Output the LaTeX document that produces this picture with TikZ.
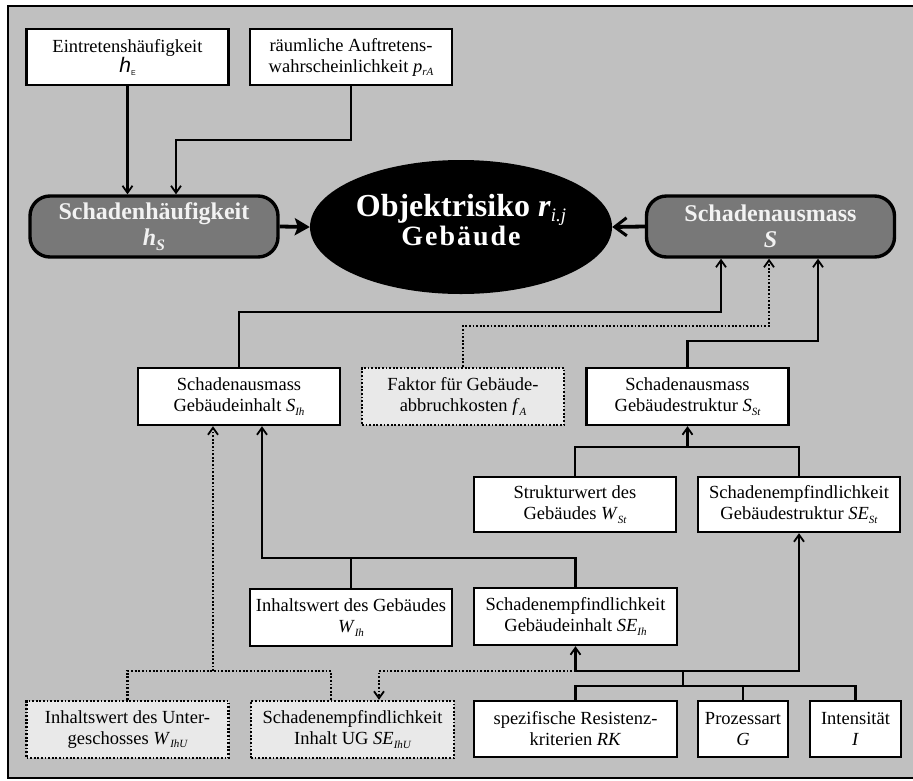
\documentclass[tikz,border=0pt]{standalone}
\usepackage{fontspec}
\setmainfont{Liberation Serif}
\newfontfamily\arialfont{Liberation Sans}
\usetikzlibrary{arrows.meta,shapes.geometric}

\definecolor{panelgrey}{HTML}{C0C0C0}
\definecolor{titlegrey}{HTML}{787878}
\definecolor{optfill}{HTML}{E9E9E9}
\definecolor{titletext}{HTML}{F2F2F2}

% small italic subscripts
\newcommand{\lowsub}[1]{\raisebox{-3.5pt}{\fontsize{11}{11}\selectfont\itshape #1}}
\newcommand{\bigsub}[1]{\raisebox{-4.5pt}{\fontsize{16}{16}\selectfont\itshape #1}}

\begin{document}
\begin{tikzpicture}[x=1pt,y=-1pt,
  box/.style={draw, line width=2.4pt, fill=white, minimum width=202pt, minimum height=56pt,
    align=center, inner sep=2pt, font=\fontsize{18.5}{21}\selectfont},
  optbox/.style={box, fill=optfill, dash pattern=on 1.8pt off 1.8pt},
  titlebox/.style={draw, line width=3.4pt, fill=titlegrey, rounded corners=20pt,
    minimum width=248pt, minimum height=61pt, text=titletext, align=center, inner sep=2pt,
    font=\fontsize{24}{26}\selectfont\bfseries},
  conn/.style={line width=2.2pt},
  dconn/.style={line width=2.2pt, dash pattern=on 1.8pt off 1.8pt},
  arr/.style={conn, -{Straight Barb[length=7pt,width=10pt,line width=1.8pt]}},
  darr/.style={dconn, -{Straight Barb[length=7pt,width=10pt,line width=1.8pt]}},
  fatarr/.style={line width=3.8pt, -{Stealth[length=15pt,width=17pt,inset=3pt]}},
  fatbarb/.style={line width=3.8pt, -{Straight Barb[length=12pt,width=18pt,line width=3pt]}}
]
\useasboundingbox (0,0) rectangle (913,780);
\clip (0,0) rectangle (913,780);

% panel
\fill[white] (0,0) rectangle (913,780);
\fill[panelgrey] (8,6) rectangle (930,778);
\draw[line width=2.8pt] (930,6) -- (8,6) -- (8,778) -- (930,778);

% upper row
\node[box] (hE) at (127.5,57) {Eintretenshäufigkeit\\[-1pt]{\arialfont\itshape\fontsize{21}{21}\selectfont h}\raisebox{-3pt}{\arialfont\fontsize{7}{7}\selectfont E}};
\node[box] (prA) at (351,57) {räumliche Auftretens-\\wahrscheinlichkeit \textit{p}\lowsub{rA}};

% central level
\node[titlebox] (hS) at (154,226.5) {Schadenhäufigkeit\\\textit{h}\bigsub{S}};
\node[ellipse, fill=black, minimum width=302pt, minimum height=134pt, inner sep=0pt] (obj) at (461,227) {};
\node[text=white, align=center, inner sep=0pt] (objtext) at (461,220)
  {\fontsize{32}{37}\selectfont\bfseries Objektrisiko \textit{r}\raisebox{-5pt}{\fontsize{19}{19}\selectfont\mdseries\itshape i.j}\\
   \fontsize{28}{37}\selectfont\bfseries\addfontfeature{LetterSpace=7}Gebäude};
\node[titlebox] (S) at (770.5,226.5) {Schadenausmass\\\textit{S}};

% damage extent components
\node[box, minimum height=57pt] (SIh) at (239,396.5) {Schadenausmass\\Gebäudeinhalt \textit{S}\lowsub{Ih}};
\node[optbox, minimum height=57pt] (fA) at (463,396.5) {Faktor für Gebäude-\\abbruchkosten \textit{f}\lowsub{A}};
\node[box, minimum height=57pt] (SSt) at (687.5,396.5) {Schadenausmass\\Gebäudestruktur \textit{S}\lowsub{St}};

\node[box, minimum height=55pt] (WSt) at (575,504.5) {Strukturwert des\\Gebäudes \textit{W}\lowsub{St}};
\node[box, minimum height=55pt] (SESt) at (799,504.5) {Schadenempfindlichkeit\\Gebäudestruktur \textit{SE}\lowsub{St}};

\node[box, minimum height=57pt] (WIh) at (351,617.5) {Inhaltswert des Gebäudes\\\textit{W}\lowsub{Ih}};
\node[box, minimum height=57pt, minimum width=203pt] (SEIh) at (575.5,616.5) {Schadenempfindlichkeit\\Gebäudeinhalt \textit{SE}\lowsub{Ih}};

% bottom row
\node[optbox, minimum height=57pt] (WIhU) at (127.5,729.5) {Inhaltswert des Unter-\\geschosses \textit{W}\lowsub{IhU}};
\node[optbox, minimum height=57pt, minimum width=203pt] (SEIhU) at (352.5,729.5) {Schadenempfindlichkeit\\Inhalt UG \textit{SE}\lowsub{IhU}};
\node[box, minimum width=203pt] (RK) at (575.5,729) {spezifische Resistenz-\\kriterien \textit{RK}};
\node[box, minimum width=90pt] (G) at (743,729) {Prozessart\\\textit{G}};
\node[box, minimum width=91pt] (I) at (855.5,729) {Intensität\\\textit{I}};

% routing points
\coordinate (k1) at (176,140);
\coordinate (s1) at (721,312);
\coordinate (s2) at (769,326);
\coordinate (s3) at (818,341);
\coordinate (j1) at (687.5,447);
\coordinate (j2) at (262,558);
\coordinate (j3) at (683,686);
\coordinate (j4) at (683,671);
\coordinate (d1) at (379,671);
\coordinate (d2) at (213,671);
\coordinate (d3) at (331,671);

% frequency branch
\draw[arr] (hE.south) -- (hE.south |- hS.north);
\draw[arr] (prA.south) |- (k1) -- (k1 |- hS.north);
\draw[fatarr] (hS.east) -- (obj.west);
\draw[fatbarb] (S.west) -- (obj.east);

% extent branch
\draw[arr] (SIh.north) |- (s1) -- (s1 |- S.south);
\draw[darr] (fA.north) |- (s2) -- (s2 |- S.south);
\draw[arr] (SSt.north) |- (s3) -- (s3 |- S.south);

\draw[conn] (WSt.north) |- (j1) -| (SESt.north);
\draw[arr] (j1) -- (SSt.south);

\draw[arr] (SEIh.north) |- (j2) -- (j2 |- SIh.south);
\draw[conn] (WIh.north) -- (WIh.north |- j2);

\draw[conn] (RK.north) |- (j3) -| (I.north);
\draw[conn] (G.north) -- (G.north |- j3);
\draw[conn] (j3) -- (j4);
\draw[arr] (j4) -| (SEIh.south);
\draw[arr] (j4) -| (SESt.south);
\draw[darr] (j4 -| SEIh.south) -- (d1) -- (d1 |- SEIhU.north);

\draw[dconn] (WIhU.north) |- (d3) -- (d3 |- SEIhU.north);
\draw[darr] (d2) -- (d2 |- SIh.south);
\end{tikzpicture}
\end{document}
